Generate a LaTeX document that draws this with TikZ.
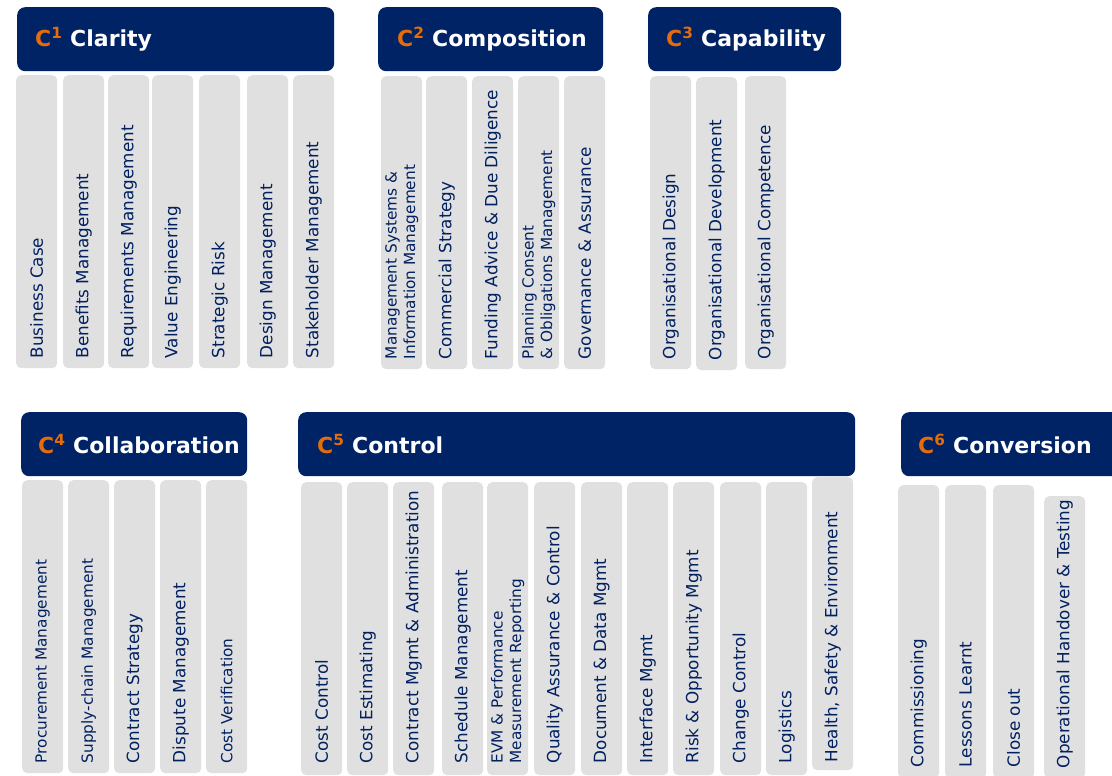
\documentclass[tikz,border=0pt]{standalone}
\usepackage{fontspec}
\setmainfont{DejaVu Sans}
\usetikzlibrary{positioning}

\definecolor{navy}{HTML}{002366}
\definecolor{ink}{HTML}{002060}
\definecolor{accent}{HTML}{E46C0A}
\definecolor{tilegray}{HTML}{E0E0E0}

\tikzset{
  head/.style={fill=navy, rounded corners=8pt, anchor=north west, inner sep=0pt},
  headtext/.style={anchor=west, text=white, inner sep=0pt, font=\fontsize{22}{26}\selectfont\bfseries},
  tile/.style={fill=tilegray, rounded corners=5pt, anchor=north west, inner sep=0pt, minimum width=41pt},
  tiletext/.style={rotate=90, anchor=west, text=ink, inner sep=0pt, align=left,
    font=\fontsize{16.8}{18}\selectfont},
  normtext/.style={},
  smalltext/.style={font=\fontsize{15.3}{17}\selectfont},
  twoline/.style={font=\fontsize{15.3}{18.5}\selectfont}
}

\newcommand{\cnum}[1]{\textcolor{accent}{C\textsuperscript{#1}}}

\begin{document}
\begin{tikzpicture}[x=1pt, y=-1pt]
    \useasboundingbox (0,0) rectangle (1112,776);
    \clip (0,0) rectangle (1112,776);

    % Kopfzeilen
    \node[head, minimum width=317pt, minimum height=64pt] (h1) at (17,7) {};
    \node[headtext] (h1t) at ([xshift=18pt]h1.west) {\cnum{1} Clarity};
    \node[head, minimum width=225pt, minimum height=64pt] (h2) at (378,7) {};
    \node[headtext] (h2t) at ([xshift=19pt]h2.west) {\cnum{2} Composition};
    \node[head, minimum width=193pt, minimum height=64pt] (h3) at (648,7) {};
    \node[headtext] (h3t) at ([xshift=18pt]h3.west) {\cnum{3} Capability};
    \node[head, minimum width=226pt, minimum height=64pt] (h4) at (21,412) {};
    \node[headtext] (h4t) at ([xshift=17pt]h4.west) {\cnum{4} Collaboration};
    \node[head, minimum width=557pt, minimum height=64pt] (h5) at (298,412) {};
    \node[headtext] (h5t) at ([xshift=19pt]h5.west) {\cnum{5} Control};
    \node[head, minimum width=240pt, minimum height=64pt] (h6) at (901,412) {};
    \node[headtext] (h6t) at ([xshift=17pt]h6.west) {\cnum{6} Conversion};

    % C1 Clarity
    \foreach \x/\n/\t in {16/a/{Business Case}, 63/b/{Benefits Management},
        108/c/{Requirements Management}, 152/d/{Value Engineering},
        199/e/{Strategic Risk}, 247/f/{Design Management}, 293/g/{Stakeholder Management}}{
      \node[tile, minimum height=293pt] (t1\n) at (\x,75) {};
      \node[tiletext] (l1\n) at ([yshift=10pt]t1\n.south) {\t};
    }

    % C2 Composition
    \foreach \x/\n/\t/\s in {381/a/{Management Systems \&\\Information Management}/twoline,
        426/b/{Commercial Strategy}/normtext, 472/c/{Funding Advice \& Due Diligence}/normtext,
        518/d/{Planning Consent\\\& Obligations Management}/twoline,
        564/e/{Governance \& Assurance}/normtext}{
      \node[tile, minimum height=293pt] (t2\n) at (\x,76) {};
      \node[tiletext, \s] (l2\n) at ([yshift=10pt]t2\n.south) {\t};
    }

    % C3 Capability
    \node[tile, minimum height=293pt] (t3a) at (650,76) {};
    \node[tiletext] (l3a) at ([yshift=10pt]t3a.south) {Organisational Design};
    \node[tile, minimum height=293pt] (t3b) at (696,77) {};
    \node[tiletext] (l3b) at ([yshift=10pt]t3b.south) {Organisational Development};
    \node[tile, minimum height=293pt] (t3c) at (745,76) {};
    \node[tiletext] (l3c) at ([yshift=10pt]t3c.south) {Organisational Competence};

    % C4 Collaboration
    \foreach \x/\n/\t/\s in {22/a/{Procurement Management}/smalltext,
        68/b/{Supply-chain Management}/smalltext, 114/c/{Contract Strategy}/normtext,
        160/d/{Dispute Management}/normtext, 206/e/{Cost Verification}/smalltext}{
      \node[tile, minimum height=293pt] (t4\n) at (\x,480) {};
      \node[tiletext, \s] (l4\n) at ([yshift=10pt]t4\n.south) {\t};
    }

    % C5 Control
    \foreach \x/\n/\t/\s in {301/a/{Cost Control}/normtext, 347/b/{Cost Estimating}/normtext,
        393/c/{Contract Mgmt \& Administration}/normtext, 442/d/{Schedule Management}/normtext,
        487/e/{EVM \& Performance\\Measurement Reporting}/twoline,
        534/f/{Quality Assurance \& Control}/normtext, 581/g/{Document \& Data Mgmt}/normtext,
        627/h/{Interface Mgmt}/normtext, 673/i/{Risk \& Opportunity Mgmt}/normtext,
        720/j/{Change Control}/normtext, 766/k/{Logistics}/normtext}{
      \node[tile, minimum height=293pt] (t5\n) at (\x,482) {};
      \node[tiletext, \s] (l5\n) at ([yshift=12pt]t5\n.south) {\t};
    }
    \node[tile, minimum height=293pt] (t5l) at (812,477) {};
    \node[tiletext] (l5l) at ([yshift=8pt]t5l.south) {Health, Safety \& Environment};

    % C6 Conversion
    \foreach \x/\n/\t in {898/a/{Commissioning}, 945/b/{Lessons Learnt}, 993/c/{Close out}}{
      \node[tile, minimum height=293pt] (t6\n) at (\x,485) {};
      \node[tiletext] (l6\n) at ([yshift=11pt]t6\n.south) {\t};
    }
    \node[tile, minimum height=282pt] (t6d) at (1044,496) {};
    \node[tiletext] (l6d) at ([yshift=10pt]t6d.south) {Operational Handover \& Testing};

\end{tikzpicture}
\end{document}
